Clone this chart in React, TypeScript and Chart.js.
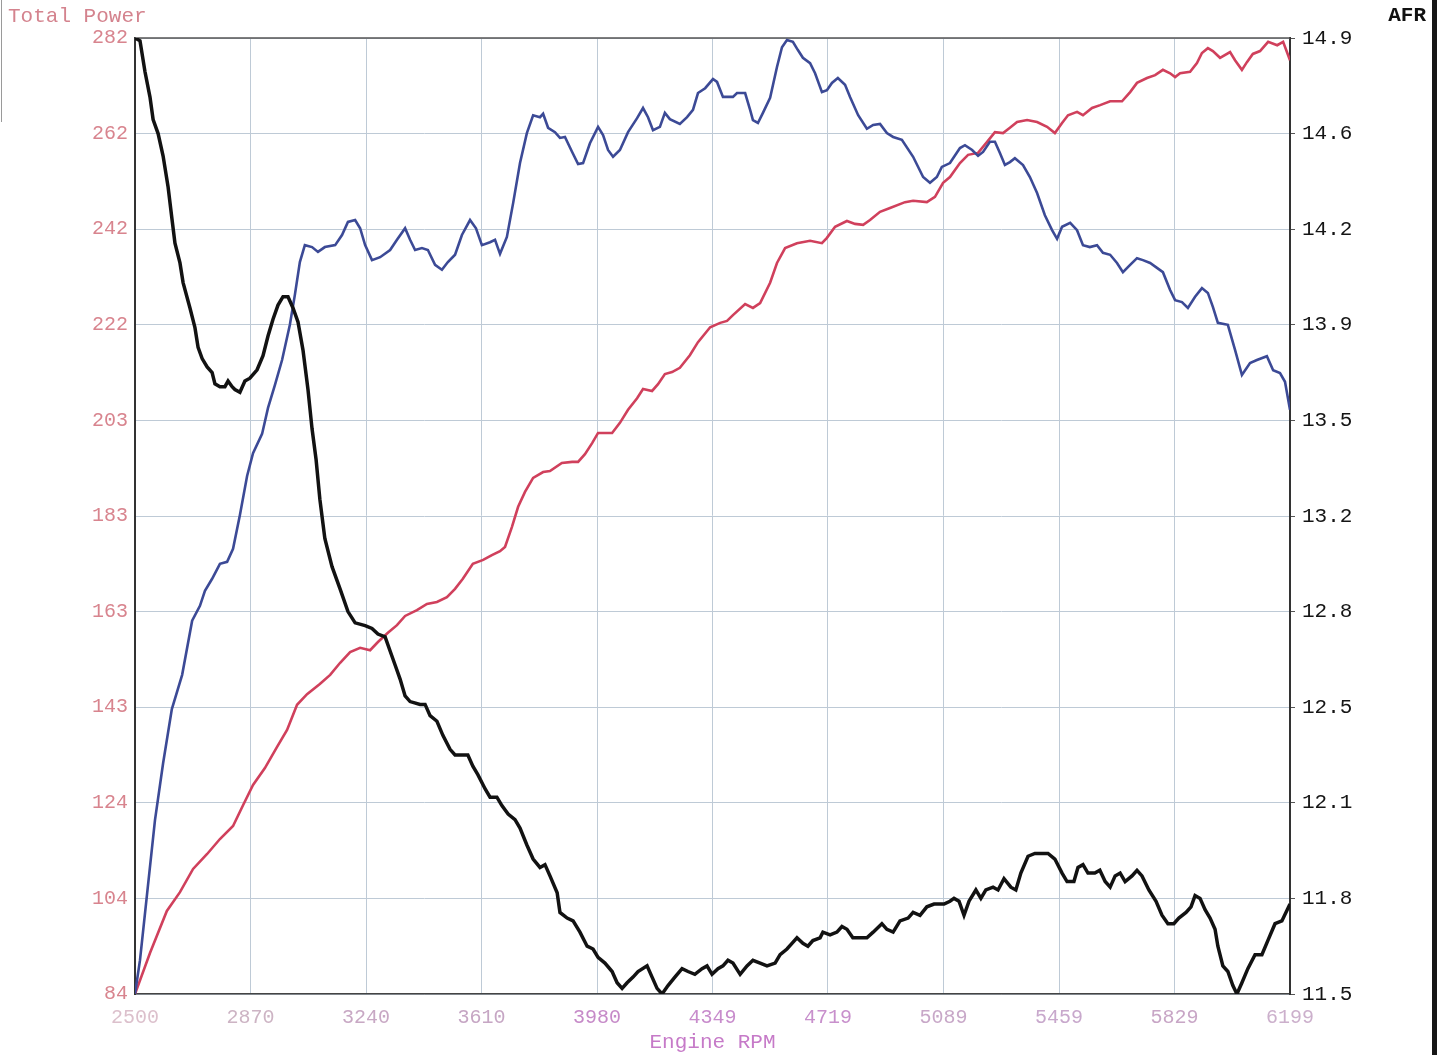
import React, { useEffect, useRef } from 'react';
import { Chart, registerables } from 'chart.js';

Chart.register(...registerables);

// ---- axis tick labels ----
const xTickLabels = ['2500', '2870', '3240', '3610', '3980', '4349', '4719', '5089', '5459', '5829', '6199'];
const xTickColors = ['#dcc0cc', '#cdb4c4', '#c8a8c4', '#c6a6c4', '#c68ac8', '#c88ccc', '#c890cc', '#c8a8c8', '#c8a8cc', '#c8a6c6', '#ccb0cc'];
const powerTickLabels = ['84', '104', '124', '143', '163', '183', '203', '222', '242', '262', '282'];
const afrTickLabels = ['11.5', '11.8', '12.1', '12.5', '12.8', '13.2', '13.5', '13.9', '14.2', '14.6', '14.9'];

const X_MIN = 2500, X_MAX = 6199;
const P_MIN = 84, P_MAX = 282;
const A_MIN = 11.5, A_MAX = 14.9;

// ---- red series (power, left axis) ----
const powerRpm = [
  2500, 2548, 2602, 2644, 2686, 2731, 2772, 2814, 2846, 2878,
  2916, 2955, 2987, 3019, 3051, 3092, 3125, 3157, 3189, 3221,
  3253, 3278, 3310, 3339, 3365, 3403, 3435, 3467, 3499, 3525,
  3550, 3582, 3615, 3643, 3669, 3685, 3707, 3727, 3749, 3775,
  3807, 3829, 3867, 3900, 3919, 3941, 3964, 3983, 4005, 4028,
  4053, 4079, 4108, 4127, 4156, 4175, 4197, 4220, 4245, 4277,
  4303, 4342, 4374, 4396, 4415, 4454, 4479, 4502, 4534, 4556,
  4582, 4620, 4662, 4700, 4716, 4742, 4780, 4806, 4832, 4854,
  4886, 4918, 4966, 4992, 5036, 5062, 5088, 5110, 5142, 5168,
  5200, 5229, 5254, 5280, 5302, 5325, 5357, 5389, 5421, 5446,
  5469, 5488, 5517, 5536, 5565, 5591, 5623, 5661, 5687, 5709,
  5741, 5767, 5792, 5815, 5831, 5847, 5879, 5901, 5917, 5936,
  5952, 5975, 6007, 6023, 6045, 6061, 6080, 6103, 6129, 6158,
  6177, 6199,
];
const powerValues = [
  84.0, 92.5, 101.2, 105.1, 109.9, 113.0, 116.1, 118.8, 123.1, 127.3,
  130.8, 135.2, 138.7, 143.9, 146.1, 148.2, 150.1, 152.6, 154.8, 155.7,
  155.2, 156.9, 158.8, 160.4, 162.3, 163.5, 164.8, 165.2, 166.2, 167.9,
  170.0, 173.1, 173.9, 174.9, 175.7, 176.6, 180.7, 184.9, 188.0, 190.9,
  192.1, 192.3, 194.0, 194.2, 194.2, 195.8, 198.1, 200.2, 200.2, 200.2,
  202.3, 205.0, 207.4, 209.3, 208.9, 210.3, 212.4, 212.8, 213.7, 216.3,
  219.0, 222.1, 223.0, 223.4, 224.6, 226.9, 226.1, 227.1, 231.3, 235.4,
  238.5, 239.5, 240.0, 239.5, 240.6, 242.9, 244.1, 243.5, 243.3, 244.3,
  246.0, 246.8, 248.0, 248.3, 248.0, 249.1, 252.0, 253.2, 256.1, 257.8,
  258.2, 260.5, 262.5, 262.3, 263.4, 264.6, 265.0, 264.6, 263.6, 262.3,
  264.4, 266.0, 266.7, 266.0, 267.5, 268.1, 268.9, 268.9, 270.8, 272.7,
  273.7, 274.3, 275.4, 274.7, 273.9, 274.7, 275.0, 276.8, 278.9, 279.9,
  279.3, 277.9, 279.1, 277.4, 275.4, 277.0, 278.7, 279.3, 281.2, 280.5,
  281.2, 277.4,
];

// ---- blue series (torque, left axis) ----
const torqueRpm = [
  2500, 2516, 2538, 2564, 2590, 2618, 2651, 2683, 2708, 2724,
  2747, 2772, 2795, 2814, 2836, 2859, 2878, 2907, 2926, 2948,
  2971, 2996, 3012, 3028, 3044, 3067, 3086, 3108, 3141, 3163,
  3182, 3205, 3221, 3237, 3259, 3285, 3317, 3339, 3365, 3381,
  3397, 3419, 3438, 3461, 3483, 3502, 3525, 3547, 3573, 3592,
  3611, 3637, 3653, 3669, 3691, 3711, 3733, 3755, 3775, 3797,
  3807, 3823, 3845, 3861, 3877, 3900, 3919, 3935, 3957, 3983,
  3999, 4015, 4031, 4053, 4079, 4108, 4127, 4143, 4159, 4181,
  4197, 4213, 4245, 4268, 4287, 4303, 4326, 4351, 4364, 4383,
  4415, 4428, 4454, 4470, 4479, 4495, 4511, 4534, 4556, 4572,
  4588, 4607, 4623, 4639, 4662, 4678, 4700, 4716, 4732, 4751,
  4774, 4790, 4816, 4844, 4864, 4886, 4908, 4928, 4956, 4992,
  5024, 5046, 5068, 5084, 5110, 5142, 5158, 5181, 5200, 5216,
  5238, 5254, 5270, 5286, 5302, 5318, 5344, 5366, 5389, 5414,
  5437, 5453, 5469, 5495, 5517, 5536, 5558, 5581, 5600, 5623,
  5645, 5664, 5687, 5709, 5728, 5751, 5773, 5792, 5815, 5831,
  5853, 5872, 5895, 5917, 5936, 5952, 5968, 6000, 6023, 6045,
  6071, 6093, 6125, 6145, 6167, 6183, 6199,
];
const torqueValues = [
  84.0, 91.0, 104.3, 120.0, 131.8, 143.0, 150.1, 161.3, 164.4, 167.5,
  170.0, 173.1, 173.5, 176.2, 183.2, 191.3, 196.0, 200.0, 205.4, 210.1,
  215.3, 222.6, 228.8, 235.6, 239.1, 238.7, 237.7, 238.7, 239.1, 241.2,
  243.9, 244.3, 242.6, 239.1, 236.0, 236.6, 238.1, 240.2, 242.6, 240.2,
  238.1, 238.5, 238.1, 235.0, 234.0, 235.6, 237.1, 241.2, 244.3, 242.6,
  239.1, 239.7, 240.2, 237.3, 240.8, 247.8, 256.1, 262.3, 266.0, 265.6,
  266.3, 263.4, 262.5, 261.3, 261.5, 258.4, 255.9, 256.1, 260.2, 263.6,
  261.9, 258.8, 257.4, 258.8, 262.5, 265.4, 267.5, 265.6, 262.9, 263.6,
  266.5, 265.2, 264.2, 265.6, 267.1, 270.6, 271.6, 273.5, 272.9, 269.8,
  269.8, 270.6, 270.6, 267.1, 265.0, 264.4, 266.5, 269.6, 276.0, 280.1,
  281.6, 281.2, 279.5, 277.9, 276.8, 274.7, 270.8, 271.2, 272.7, 273.7,
  272.3, 269.8, 266.0, 263.2, 264.0, 264.2, 262.3, 261.5, 260.9, 257.4,
  253.2, 252.0, 253.2, 255.3, 256.1, 259.2, 259.8, 258.8, 257.6, 258.4,
  260.5, 260.5, 258.2, 255.7, 256.3, 257.1, 255.7, 253.2, 249.9, 245.3,
  242.2, 240.4, 242.9, 243.7, 242.2, 239.1, 238.7, 239.1, 237.5, 237.1,
  235.4, 233.5, 235.0, 236.4, 236.0, 235.4, 234.4, 233.5, 229.8, 227.7,
  227.3, 226.1, 228.4, 230.2, 229.2, 226.3, 223.0, 222.6, 217.4, 212.2,
  214.7, 215.3, 216.1, 213.2, 212.6, 210.8, 205.0,
];

// ---- black series (AFR, right axis) ----
const afrRpm = [
  2500, 2516, 2532, 2548, 2558, 2574, 2590, 2606, 2618, 2628,
  2644, 2654, 2676, 2692, 2702, 2715, 2731, 2747, 2756, 2772,
  2788, 2798, 2811, 2820, 2836, 2852, 2868, 2891, 2910, 2926,
  2942, 2958, 2974, 2990, 3006, 3022, 3038, 3054, 3067, 3080,
  3092, 3108, 3131, 3157, 3182, 3205, 3237, 3259, 3278, 3301,
  3317, 3333, 3349, 3365, 3381, 3413, 3429, 3445, 3467, 3486,
  3509, 3525, 3547, 3566, 3582, 3598, 3621, 3637, 3659, 3675,
  3695, 3717, 3733, 3755, 3775, 3797, 3813, 3829, 3852, 3861,
  3884, 3903, 3925, 3948, 3967, 3983, 4005, 4028, 4044, 4060,
  4076, 4095, 4111, 4140, 4156, 4172, 4188, 4207, 4229, 4252,
  4271, 4293, 4316, 4332, 4348, 4367, 4383, 4399, 4415, 4438,
  4460, 4479, 4502, 4524, 4550, 4566, 4588, 4604, 4620, 4639,
  4655, 4671, 4694, 4703, 4726, 4748, 4764, 4780, 4799, 4822,
  4844, 4864, 4892, 4908, 4928, 4950, 4976, 4992, 5014, 5036,
  5059, 5091, 5110, 5123, 5139, 5155, 5171, 5193, 5209, 5225,
  5248, 5264, 5283, 5305, 5321, 5337, 5360, 5382, 5402, 5424,
  5446, 5469, 5485, 5507, 5520, 5536, 5552, 5574, 5590, 5607,
  5623, 5639, 5655, 5671, 5693, 5709, 5725, 5747, 5770, 5789,
  5808, 5827, 5843, 5866, 5882, 5895, 5911, 5927, 5943, 5959,
  5968, 5984, 6000, 6016, 6029, 6045, 6064, 6087, 6109, 6128,
  6151, 6173, 6199,
];
const afrValues = [
  14.90, 14.89, 14.78, 14.69, 14.61, 14.56, 14.48, 14.37, 14.26, 14.17,
  14.10, 14.03, 13.94, 13.87, 13.80, 13.76, 13.73, 13.71, 13.67, 13.66,
  13.66, 13.68, 13.66, 13.65, 13.64, 13.68, 13.69, 13.72, 13.77, 13.84,
  13.90, 13.95, 13.98, 13.98, 13.94, 13.89, 13.79, 13.65, 13.51, 13.40,
  13.26, 13.12, 13.02, 12.94, 12.86, 12.82, 12.81, 12.80, 12.78, 12.77,
  12.72, 12.67, 12.62, 12.56, 12.54, 12.53, 12.53, 12.49, 12.47, 12.42,
  12.37, 12.35, 12.35, 12.35, 12.31, 12.28, 12.23, 12.20, 12.20, 12.17,
  12.14, 12.12, 12.09, 12.03, 11.98, 11.95, 11.96, 11.92, 11.86, 11.79,
  11.77, 11.76, 11.72, 11.67, 11.66, 11.63, 11.61, 11.58, 11.54, 11.52,
  11.54, 11.56, 11.58, 11.60, 11.56, 11.52, 11.50, 11.53, 11.56, 11.59,
  11.58, 11.57, 11.59, 11.60, 11.57, 11.59, 11.60, 11.62, 11.61, 11.57,
  11.60, 11.62, 11.61, 11.60, 11.61, 11.64, 11.66, 11.68, 11.70, 11.68,
  11.67, 11.69, 11.70, 11.72, 11.71, 11.72, 11.74, 11.73, 11.70, 11.70,
  11.70, 11.72, 11.75, 11.73, 11.72, 11.76, 11.77, 11.79, 11.78, 11.81,
  11.82, 11.82, 11.83, 11.84, 11.83, 11.78, 11.83, 11.87, 11.84, 11.87,
  11.88, 11.87, 11.91, 11.88, 11.87, 11.93, 11.99, 12.00, 12.00, 12.00,
  11.98, 11.93, 11.90, 11.90, 11.95, 11.96, 11.93, 11.93, 11.94, 11.90,
  11.88, 11.92, 11.93, 11.90, 11.92, 11.94, 11.92, 11.87, 11.83, 11.78,
  11.75, 11.75, 11.77, 11.79, 11.81, 11.85, 11.84, 11.80, 11.77, 11.73,
  11.67, 11.60, 11.58, 11.53, 11.50, 11.54, 11.59, 11.64, 11.64, 11.69,
  11.75, 11.76, 11.82,
];

const toPoints = (xs: number[], ys: number[]) => xs.map((x, i) => ({ x, y: ys[i] }));
const evenTicks = (min: number, max: number, n: number) =>
  Array.from({ length: n }, (_, i) => ({ value: min + ((max - min) * i) / (n - 1) }));

const FONT = '"Liberation Mono", "DejaVu Sans Mono", monospace';

const decorPlugin = {
  id: 'decor',
  beforeDatasetsDraw(chart: any) {
    const { ctx, chartArea } = chart;
    ctx.save();
    ctx.strokeStyle = '#555';
    ctx.lineWidth = 1.5;
    ctx.beginPath();
    ctx.moveTo(chartArea.left, chartArea.top);
    ctx.lineTo(chartArea.right, chartArea.top);
    ctx.stroke();
    ctx.restore();
  },
  afterDraw(chart: any) {
    const { ctx, chartArea, width, height } = chart;
    ctx.save();
    ctx.textBaseline = 'middle';
    ctx.font = `21px ${FONT}`;
    ctx.fillStyle = '#d4838e';
    ctx.textAlign = 'left';
    ctx.fillText('Total Power', 8, 16);
    ctx.font = `bold 21px ${FONT}`;
    ctx.fillStyle = '#111';
    ctx.textAlign = 'right';
    ctx.fillText('AFR', 1426, 16);
    ctx.font = `21px ${FONT}`;
    ctx.fillStyle = '#c67ac8';
    ctx.textAlign = 'center';
    ctx.fillText('Engine RPM', (chartArea.left + chartArea.right) / 2, 1042);
    // scan edges
    ctx.fillStyle = '#161616';
    ctx.fillRect(width - 5, 0, 5, height);
    ctx.strokeStyle = '#9a9a9a';
    ctx.lineWidth = 1;
    ctx.beginPath();
    ctx.moveTo(1.5, 0);
    ctx.lineTo(1.5, 122);
    ctx.stroke();
    ctx.restore();
  },
};

export default function App() {
  const canvasRef = useRef<HTMLCanvasElement | null>(null);

  useEffect(() => {
    if (!canvasRef.current) return;
    const gridColor = 'rgb(190,202,214)';
    const chart = new Chart(canvasRef.current, {
      type: 'line',
      data: {
        datasets: [
          {
            label: 'AFR',
            data: toPoints(afrRpm, afrValues),
            yAxisID: 'yAfr',
            borderColor: '#121212',
            borderWidth: 3.5,
            pointRadius: 0,
            tension: 0,
          },
          {
            label: 'Torque',
            data: toPoints(torqueRpm, torqueValues),
            yAxisID: 'yPower',
            borderColor: 'rgb(60,74,150)',
            borderWidth: 2.6,
            pointRadius: 0,
            tension: 0,
          },
          {
            label: 'Total Power',
            data: toPoints(powerRpm, powerValues),
            yAxisID: 'yPower',
            borderColor: 'rgb(208,64,92)',
            borderWidth: 2.6,
            pointRadius: 0,
            tension: 0,
          },
        ],
      },
      options: {
        animation: false,
        responsive: false,
        maintainAspectRatio: false,
        events: [],
        layout: { padding: { top: 38, left: 0, right: 0, bottom: 0 } },
        plugins: { legend: { display: false }, tooltip: { enabled: false }, title: { display: false } },
        scales: {
          x: {
            type: 'linear',
            min: X_MIN,
            max: X_MAX,
            afterBuildTicks: (s: any) => { s.ticks = evenTicks(X_MIN, X_MAX, xTickLabels.length); },
            afterFit: (s: any) => { s.height = 61; },
            ticks: {
              autoSkip: false,
              maxRotation: 0,
              padding: 12,
              font: { family: FONT, size: 20 },
              color: (c: any) => xTickColors[c.index] || '#c8a8c8',
              callback: (_v: any, i: number) => xTickLabels[i],
            },
            grid: { color: gridColor, lineWidth: 1, drawTicks: false },
            border: { display: true, color: '#444', width: 1.5 },
          },
          yPower: {
            type: 'linear',
            position: 'left',
            min: P_MIN,
            max: P_MAX,
            afterBuildTicks: (s: any) => { s.ticks = evenTicks(P_MIN, P_MAX, powerTickLabels.length); },
            afterFit: (s: any) => { s.width = 135; },
            ticks: {
              autoSkip: false,
              padding: 7,
              font: { family: FONT, size: 20 },
              color: 'rgb(216,132,142)',
              callback: (_v: any, i: number) => powerTickLabels[i],
            },
            grid: { color: gridColor, lineWidth: 1, drawTicks: false },
            border: { display: true, color: '#333', width: 2 },
          },
          yAfr: {
            type: 'linear',
            position: 'right',
            min: A_MIN,
            max: A_MAX,
            afterBuildTicks: (s: any) => { s.ticks = evenTicks(A_MIN, A_MAX, afrTickLabels.length); },
            afterFit: (s: any) => { s.width = 147; },
            ticks: {
              autoSkip: false,
              padding: 7,
              font: { family: FONT, size: 21 },
              color: '#151515',
              callback: (_v: any, i: number) => afrTickLabels[i],
            },
            grid: { drawOnChartArea: false, drawTicks: true, tickLength: 5, color: '#555' },
            border: { display: true, color: '#333', width: 2 },
          },
        },
      },
      plugins: [decorPlugin],
    });
    return () => chart.destroy();
  }, []);

  return (
    <div style={{ position: 'fixed', left: 0, top: 0, width: 1437, height: 1055, background: '#fff' }}>
      <canvas ref={canvasRef} width={1437} height={1055} style={{ display: 'block', width: 1437, height: 1055 }} />
    </div>
  );
}
